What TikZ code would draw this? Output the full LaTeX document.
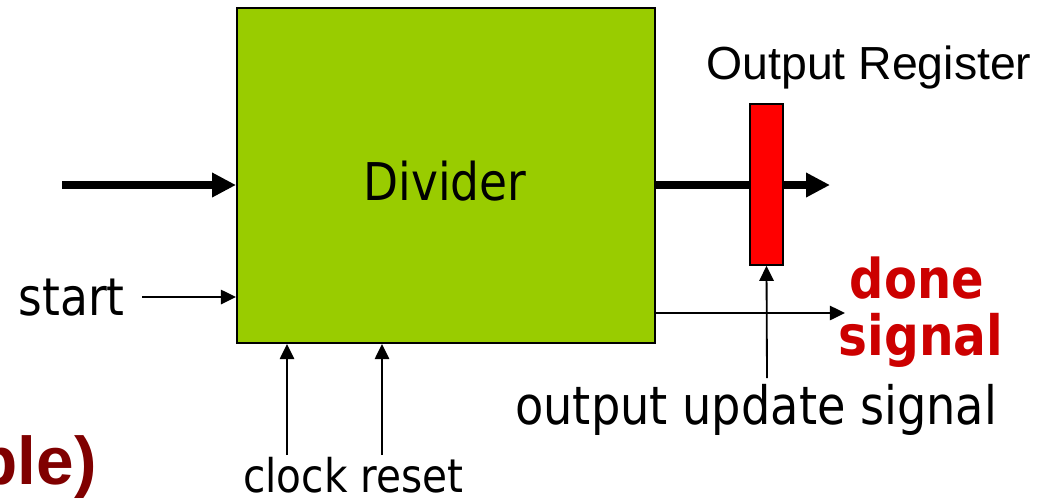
\documentclass[tikz,border=0pt]{standalone}
\usepackage{fontspec}
\setmainfont{Liberation Sans}
\newfontfamily\tahfont[FakeStretch=0.875]{DejaVu Sans}
\usetikzlibrary{arrows.meta,positioning}

\definecolor{divgreen}{HTML}{99CC00}
\definecolor{regred}{HTML}{FF0000}
\definecolor{donered}{HTML}{CC0000}
\definecolor{titlered}{HTML}{800000}

\tikzset{
  bus/.style={line width=5.7pt,-{Triangle[length=0.6cm,width=0.58cm]}},
  sig/.style={line width=1.3pt,-{Triangle[length=0.38cm,width=0.36cm]}},
  lbl/.style={inner sep=0pt,font=\tahfont\fontsize{37}{40}\selectfont},
}

\begin{document}
\begin{tikzpicture}[x=0.025cm,y=-0.025cm]
  \useasboundingbox (0,0) rectangle (1045,502);
  % divider block
  \node[draw,line width=1.3pt,fill=divgreen,minimum width=10.45cm,minimum height=8.375cm,
        inner sep=0pt] (div) at (446,175.5) {};
  \node[lbl,anchor=base] (divtxt) at (445,200) {Divider};
  % free ends
  \coordinate (inL) at (62,185);
  \coordinate (outR) at (830,185);
  \coordinate (st) at (142,297);
  \coordinate (dn) at (845,313);
  \coordinate (ck) at (287,455);
  \coordinate (rs) at (382,455);
  \coordinate (upd) at (767,378);
  % data path
  \draw[bus] (inL) -- (inL -| div.west);
  \draw[bus] (outR -| div.east) -- (outR);
  \node[draw,line width=1pt,fill=regred,minimum width=0.825cm,minimum height=4.025cm,
        inner sep=0pt] (reg) at (766.5,184.5) {};
  % control signals
  \draw[sig] (st) -- (st -| div.west);
  \draw[sig] (dn -| div.east) -- (dn);
  \draw[sig] (ck) -- (ck |- div.south);
  \draw[sig] (rs) -- (rs |- div.south);
  \draw[sig] (upd) -- (reg.south);
  % labels
  \node[inner sep=0pt,anchor=base,font=\fontsize{33}{36}\selectfont] (regtxt) at (869,79) {Output Register};
  \node[lbl,anchor=base east] (sttxt) at (125,315) {start};
  \node[lbl,anchor=base west,font=\tahfont\fontsize{33}{36}\selectfont] (cktxt) at (243,492) {clock reset};
  \node[lbl,anchor=base west,font=\tahfont\fontsize{37.6}{40}\selectfont] (updtxt) at (515,424) {output update signal};
  \node[lbl,anchor=base,text=donered,font=\tahfont\bfseries\fontsize{39}{42}\selectfont] (dntxt) at (917,298) {done};
  \node[lbl,anchor=base,text=donered,font=\tahfont\bfseries\fontsize{39.5}{42}\selectfont] (sgtxt) at (921,355) {signal};
  \node[inner sep=0pt,anchor=base east,text=titlered,font=\bfseries\fontsize{48}{52}\selectfont] (ttl) at (97,484) {ple)};
\end{tikzpicture}
\end{document}
